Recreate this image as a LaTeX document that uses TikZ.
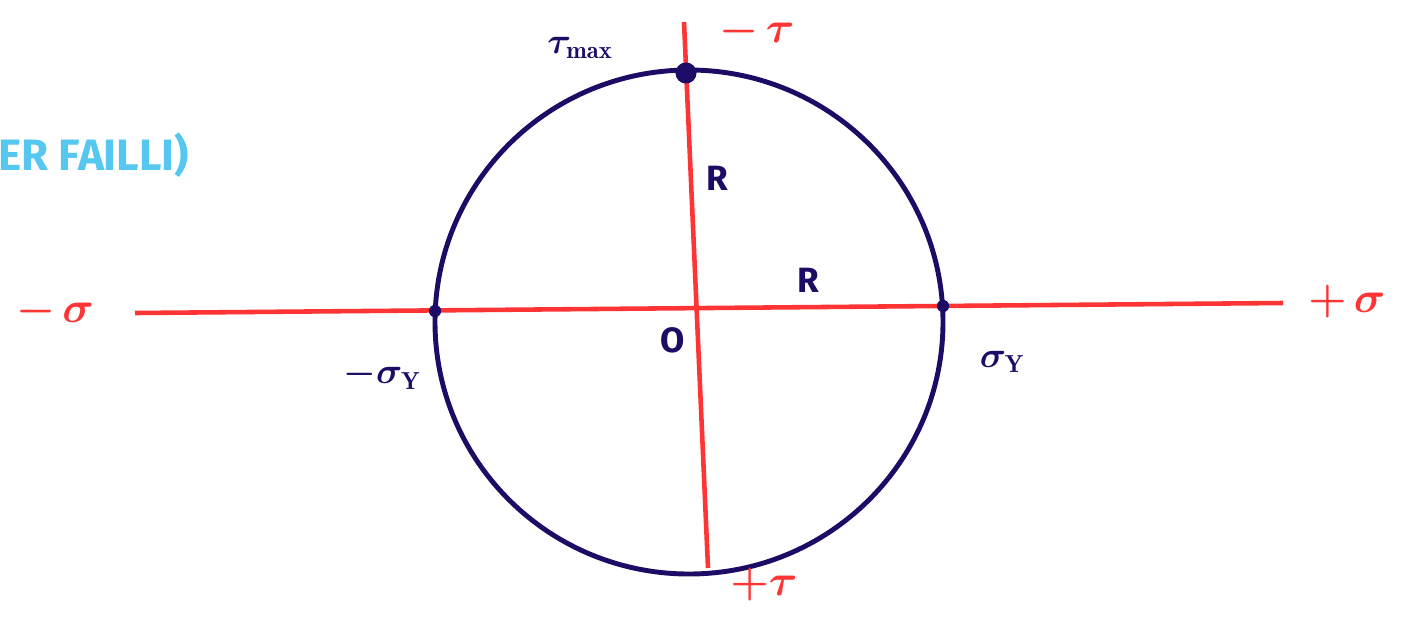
\documentclass[tikz,border=0pt]{standalone}
\usepackage{amsmath}
\usepackage{bm}
\usepackage{fontspec}
\setsansfont{Fira Sans}
\definecolor{navy}{HTML}{1E0B66}
\definecolor{axred}{HTML}{FF3434}
\definecolor{skyc}{HTML}{55C7F0}
\begin{document}
\begin{tikzpicture}[x=0.02cm,y=-0.02cm,
  axis/.style={draw=axred,line width=2.6pt},
  ring/.style={draw=navy,line width=2.8pt},
  dotp/.style={circle,fill=navy,inner sep=0pt,minimum size=#1},
  navylbl/.style={text=navy,font=\sffamily\bfseries\fontsize{20}{24}\selectfont},
  redlbl/.style={text=axred,font=\sffamily\fontsize{24}{28}\selectfont},
  skylbl/.style={text=skyc,font=\sffamily\bfseries\fontsize{25}{30}\selectfont}]
\useasboundingbox (0,0) rectangle (1416,616);
% axes end points
\coordinate (hl) at (135,313);
\coordinate (hr) at (1283,303);
\coordinate (vt) at (684,22);
\coordinate (vb) at (708,568);
\coordinate (ctr) at (689,322);
\draw[axis] (hl) -- (hr);
\draw[axis] (vt) -- (vb);
\draw[ring] (ctr) circle[x radius=254, y radius=252];
% points
\node[dotp=12pt] (top) at (686,73) {};
\node[dotp=7pt] (lp) at (435,311) {};
\node[dotp=7pt] (rp) at (943,306) {};
% labels
\node[navylbl] (tmax) at (580,48) {$\bm{\tau}_{\mathbf{max}}$};
\node[redlbl] (mt) at (757,32) {$\bm{-\,\tau}$};
\node[redlbl] (pt) at (764,585) {$\bm{+\tau}$};
\node[redlbl] (ms) at (55,312) {$\bm{-\,\sigma}$};
\node[redlbl] (ps) at (1347,302) {$\bm{+\,\sigma}$};
\node[navylbl] (r1) at (717,178) {R};
\node[navylbl] (r2) at (808,280) {R};
\node[navylbl] (o) at (673,340) {O};
\node[navylbl] (msy) at (382,375) {$\bm{-\sigma}_{\mathbf{Y}}$};
\node[navylbl] (sy) at (1002,362) {$\bm{\sigma}_{\mathbf{Y}}$};
\node[skylbl,anchor=west] (sky) at (-8,155) {ER FAILLI)};
\end{tikzpicture}
\end{document}
